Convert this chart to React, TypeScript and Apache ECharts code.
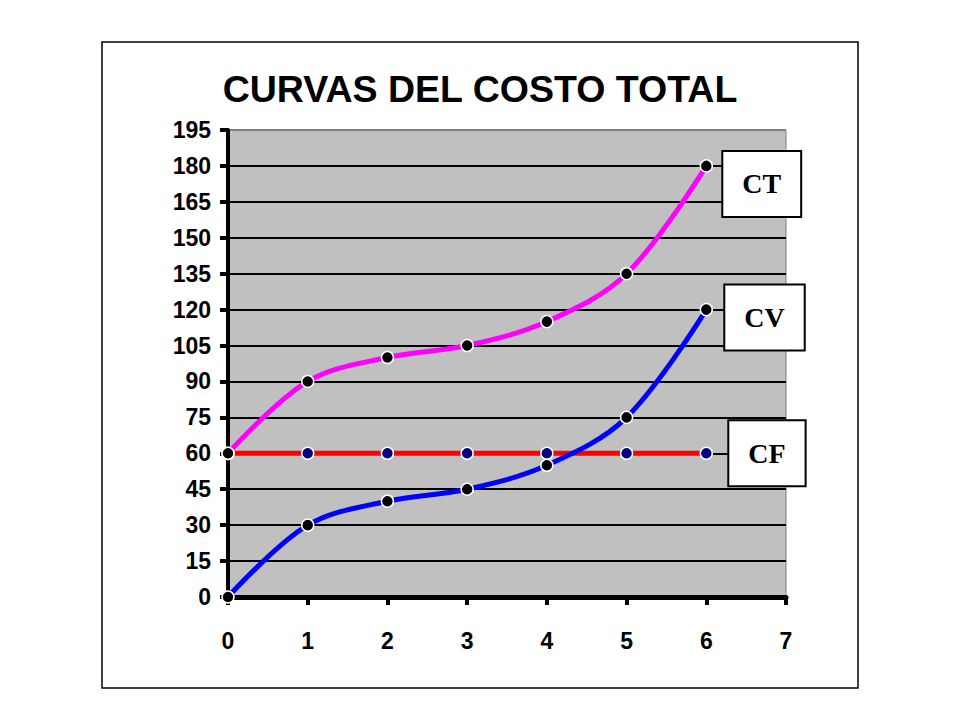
import React, { useEffect, useRef } from "react";
import * as echarts from "echarts";

const xValues = [0, 1, 2, 3, 4, 5, 6];
const ctValues = [60, 90, 100, 105, 115, 135, 180];
const cvValues = [0, 30, 40, 45, 55, 75, 120];
const cfValues = [60, 60, 60, 60, 60, 60, 60];
const seriesNames = ["CT", "CV", "CF"];
const titleText = "CURVAS DEL COSTO TOTAL";

const pairs = (ys: number[]) => xValues.map((x, i) => [x, ys[i]]);

export default function App() {
  const ref = useRef<HTMLDivElement>(null);
  useEffect(() => {
    if (!ref.current) return;
    const chart = echarts.init(ref.current, null, { renderer: "svg" });
    const labelFont = "'Liberation Sans Narrow', 'Arial Narrow', 'Liberation Sans', Arial, sans-serif";
    const endLabel = (name: string, offset: number[]) => ({
      show: true,
      formatter: name,
      distance: 0,
      offset,
      backgroundColor: "#ffffff",
      borderColor: "#000000",
      borderWidth: 2,
      align: "left",
      verticalAlign: "middle",
      padding: [18, 19, 16, 19],
      lineHeight: 30,
      fontFamily: "'Liberation Serif', 'Times New Roman', serif",
      fontWeight: "bold",
      fontSize: 28,
      color: "#000000",
    });
    const gridColors = Array.from({ length: 13 }, () => "#000000").concat(["#808080"]);
    chart.setOption({
      animation: false,
      backgroundColor: "#ffffff",
      graphic: [
        {
          type: "rect",
          shape: { x: 102, y: 42, width: 756, height: 646 },
          style: { fill: "none", stroke: "#000000", lineWidth: 1.5 },
          silent: true,
          z: 0,
        },
        {
          type: "text",
          x: 480,
          y: 89,
          style: {
            text: titleText,
            fontFamily: "'Liberation Sans', Arial, sans-serif",
            fontWeight: "bold",
            fontSize: 37.5,
            fill: "#000000",
            textAlign: "center",
            textVerticalAlign: "middle",
          },
        },
      ],
      grid: {
        left: 228,
        right: 174,
        top: 130,
        bottom: 123,
        show: true,
        backgroundColor: "#C0C0C0",
        borderColor: "#808080",
        borderWidth: 1,
      },
      xAxis: {
        type: "value",
        min: 0,
        max: 7,
        interval: 1,
        axisLine: { show: true, onZero: false, lineStyle: { color: "#000000", width: 5 } },
        axisTick: { show: true, length: 8, lineStyle: { color: "#000000", width: 4 } },
        splitLine: { show: false },
        axisLabel: {
          margin: 32,
          fontFamily: labelFont,
          fontWeight: "bold",
          fontSize: 23,
          color: "#000000",
        },
      },
      yAxis: {
        type: "value",
        min: 0,
        max: 195,
        interval: 15,
        axisLine: { show: true, lineStyle: { color: "#000000", width: 4 } },
        axisTick: { show: true, length: 8, lineStyle: { color: "#000000", width: 4 } },
        splitLine: { show: true, lineStyle: { color: gridColors, width: 2 } },
        axisLabel: {
          margin: 17,
          fontFamily: labelFont,
          fontWeight: "bold",
          fontSize: 23,
          color: "#000000",
        },
      },
      series: [
        {
          name: seriesNames[0],
          type: "line",
          data: pairs(ctValues),
          smooth: 0.35,
          lineStyle: { color: "#FF00FF", width: 5 },
          itemStyle: { color: "#000000", borderColor: "#ffffff", borderWidth: 1.5 },
          symbol: "circle",
          symbolSize: 12,
          z: 4,
          endLabel: endLabel(seriesNames[0], [17, 18]),
        },
        {
          name: seriesNames[1],
          type: "line",
          data: pairs(cvValues),
          smooth: 0.35,
          lineStyle: { color: "#0000FF", width: 5 },
          itemStyle: { color: "#000000", borderColor: "#ffffff", borderWidth: 1.5 },
          symbol: "circle",
          symbolSize: 12,
          z: 3,
          endLabel: endLabel(seriesNames[1], [19, 8]),
        },
        {
          name: seriesNames[2],
          type: "line",
          data: pairs(cfValues),
          lineStyle: { color: "#FF0000", width: 5 },
          itemStyle: { color: "#000080", borderColor: "#ffffff", borderWidth: 1.5 },
          symbol: "circle",
          symbolSize: 12,
          z: 2,
          endLabel: endLabel(seriesNames[2], [23, 0]),
        },
      ],
    });
    return () => chart.dispose();
  }, []);
  return (
    <div
      ref={ref}
      style={{ position: "fixed", left: 0, top: 0, width: 960, height: 720 }}
    />
  );
}
